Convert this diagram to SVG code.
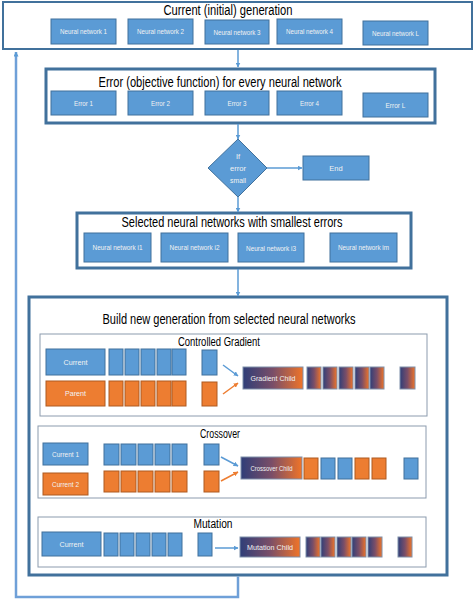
<svg xmlns="http://www.w3.org/2000/svg" width="474" height="600" viewBox="0 0 474 600">
<defs>
<linearGradient id="grad" x1="0" y1="0" x2="1" y2="0">
<stop offset="0" stop-color="#2F3E78"/>
<stop offset="0.5" stop-color="#7A4E68"/>
<stop offset="1" stop-color="#F07428"/>
</linearGradient>
<marker id="ab" viewBox="0 0 10 10" refX="9" refY="5" markerWidth="5" markerHeight="5" orient="auto" markerUnits="userSpaceOnUse">
<path d="M0,0 L10,5 L0,10 z" fill="#5B9BD5"/>
</marker>
<marker id="ao" viewBox="0 0 10 10" refX="9" refY="5" markerWidth="5" markerHeight="5" orient="auto" markerUnits="userSpaceOnUse">
<path d="M0,0 L10,5 L0,10 z" fill="#ED7D31"/>
</marker>
</defs>
<style>
.bg{fill:#FFFFFF}
.frame{fill:#FFFFFF;stroke:#41719C;stroke-width:3}
.top{fill:#FFFFFF;stroke:#41719C;stroke-width:2}
.sub{fill:#FFFFFF;stroke:#8C9BAE;stroke-width:1}
.b{fill:#5B9BD5;stroke:#41719C;stroke-width:1}
.o{fill:#ED7D31;stroke:#AE5A21;stroke-width:1}
.g{fill:url(#grad);stroke:#7F8FA9;stroke-width:1}
.t{font-family:"Liberation Sans",Arial,sans-serif;fill:#000000;text-anchor:middle}
.h1{font-size:14px}
.h2{font-size:12px}
.l{font-family:"Liberation Sans",Arial,sans-serif;font-size:7.5px;fill:#F2F2F2;text-anchor:middle}
.c{fill:none;stroke:#5B9BD5;stroke-width:1.5}
.co{fill:none;stroke:#ED7D31;stroke-width:1.5}
.fb{fill:none;stroke:#6FA0D8;stroke-width:2.5}
</style>
<rect class="bg" x="0" y="0" width="474" height="600"/>

<g id="current-generation">
<rect class="top" x="3" y="2" width="469" height="47"/>
<text class="t h1" x="228" y="15" textLength="129" lengthAdjust="spacingAndGlyphs">Current (initial) generation</text>
<rect class="b" x="51" y="19" width="65" height="25"/><text class="l" x="83.5" y="34" textLength="47" lengthAdjust="spacingAndGlyphs">Neural network 1</text>
<rect class="b" x="128" y="19" width="65" height="25"/><text class="l" x="160.5" y="34" textLength="47" lengthAdjust="spacingAndGlyphs">Neural network 2</text>
<rect class="b" x="205" y="20" width="64" height="24"/><text class="l" x="237" y="35" textLength="47" lengthAdjust="spacingAndGlyphs">Neural network 3</text>
<rect class="b" x="277" y="19" width="65" height="25"/><text class="l" x="309.5" y="34" textLength="47" lengthAdjust="spacingAndGlyphs">Neural network 4</text>
<rect class="b" x="363" y="21" width="65" height="24"/><text class="l" x="395.5" y="36" textLength="47" lengthAdjust="spacingAndGlyphs">Neural network L</text>
</g>

<g id="error">
<rect class="frame" x="46" y="69" width="389" height="54"/>
<text class="t h1" x="220" y="87" textLength="243" lengthAdjust="spacingAndGlyphs">Error (objective function) for every neural network</text>
<rect class="b" x="51" y="91" width="65" height="24"/><text class="l" x="83.5" y="106" textLength="19" lengthAdjust="spacingAndGlyphs">Error 1</text>
<rect class="b" x="128" y="91" width="65" height="24"/><text class="l" x="160.5" y="106" textLength="19" lengthAdjust="spacingAndGlyphs">Error 2</text>
<rect class="b" x="205" y="91" width="64" height="24"/><text class="l" x="237" y="106" textLength="19" lengthAdjust="spacingAndGlyphs">Error 3</text>
<rect class="b" x="277" y="91" width="65" height="24"/><text class="l" x="309.5" y="106" textLength="19" lengthAdjust="spacingAndGlyphs">Error 4</text>
<rect class="b" x="363" y="93" width="65" height="24"/><text class="l" x="395.5" y="108" textLength="20" lengthAdjust="spacingAndGlyphs">Error  L</text>
</g>

<g id="decision">
<polygon class="b" points="238,139 267,168 238,197 208,168"/>
<text class="l" x="238" y="159">If</text>
<text class="l" x="238" y="171" textLength="16" lengthAdjust="spacingAndGlyphs">error</text>
<text class="l" x="238" y="183" textLength="16" lengthAdjust="spacingAndGlyphs">small</text>
</g>

<g id="end">
<rect class="b" x="303" y="156" width="66" height="24"/>
<text class="l" x="336" y="171">End</text>
</g>

<g id="selected">
<rect class="frame" x="77" y="213" width="334" height="55"/>
<text class="t h1" x="232" y="227" textLength="221" lengthAdjust="spacingAndGlyphs">Selected neural networks with smallest errors</text>
<rect class="b" x="84" y="233" width="67" height="29"/><text class="l" x="117.5" y="250" textLength="50" lengthAdjust="spacingAndGlyphs">Neural network i1</text>
<rect class="b" x="161" y="233" width="67" height="29"/><text class="l" x="194.5" y="250" textLength="50" lengthAdjust="spacingAndGlyphs">Neural network i2</text>
<rect class="b" x="238" y="233" width="66" height="29"/><text class="l" x="271" y="251" textLength="50" lengthAdjust="spacingAndGlyphs">Neural network i3</text>
<rect class="b" x="330" y="233" width="67" height="29"/><text class="l" x="363.5" y="250" textLength="51" lengthAdjust="spacingAndGlyphs">Neural network im</text>
</g>

<g id="build">
<rect class="frame" x="29" y="297" width="418" height="278"/>
<text class="t h1" x="229" y="324" textLength="253" lengthAdjust="spacingAndGlyphs">Build new generation from selected neural networks</text>
</g>

<g id="controlled-gradient">
<rect class="sub" x="40" y="334" width="387" height="82"/>
<text class="t h2" x="219" y="346" textLength="82" lengthAdjust="spacingAndGlyphs">Controlled Gradient</text>
<rect class="b" x="46" y="349" width="59" height="26"/><text class="l" x="75.5" y="365" textLength="24" lengthAdjust="spacingAndGlyphs">Current</text>
<rect class="o" x="46" y="381" width="59" height="25"/><text class="l" x="75.5" y="396" textLength="21" lengthAdjust="spacingAndGlyphs">Parent</text>
<rect class="b" x="109" y="349" width="14" height="26"/>
<rect class="b" x="125" y="349" width="14" height="26"/>
<rect class="b" x="141" y="349" width="14" height="26"/>
<rect class="b" x="157" y="349" width="14" height="26"/>
<rect class="b" x="172" y="349" width="14" height="26"/>
<rect class="b" x="202" y="350" width="15" height="25"/>
<rect class="o" x="109" y="381" width="14" height="25"/>
<rect class="o" x="125" y="381" width="14" height="25"/>
<rect class="o" x="141" y="381" width="14" height="25"/>
<rect class="o" x="157" y="381" width="14" height="25"/>
<rect class="o" x="172" y="381" width="14" height="25"/>
<rect class="o" x="202" y="382" width="15" height="24"/>
<rect class="g" x="243" y="367" width="60" height="22"/><text class="l" x="273" y="381" textLength="45" lengthAdjust="spacingAndGlyphs">Gradient Child</text>
<rect class="g" x="307" y="367" width="14" height="22"/>
<rect class="g" x="323" y="367" width="14" height="22"/>
<rect class="g" x="339" y="367" width="14" height="22"/>
<rect class="g" x="355" y="367" width="14" height="22"/>
<rect class="g" x="370" y="367" width="14" height="22"/>
<rect class="g" x="400" y="367" width="15" height="22"/>
</g>

<g id="crossover">
<rect class="sub" x="38" y="426" width="388" height="72"/>
<text class="t h2" x="220" y="438" textLength="40" lengthAdjust="spacingAndGlyphs">Crossover</text>
<rect class="b" x="43" y="443" width="45" height="22"/><text class="l" x="65.5" y="457" textLength="27" lengthAdjust="spacingAndGlyphs">Current 1</text>
<rect class="o" x="43" y="473" width="45" height="22"/><text class="l" x="65.5" y="487" textLength="27" lengthAdjust="spacingAndGlyphs">Current 2</text>
<rect class="b" x="104" y="444" width="15" height="21"/>
<rect class="b" x="121" y="444" width="15" height="21"/>
<rect class="b" x="138" y="444" width="15" height="21"/>
<rect class="b" x="155" y="444" width="15" height="21"/>
<rect class="b" x="172" y="444" width="15" height="21"/>
<rect class="b" x="204" y="444" width="15" height="21"/>
<rect class="o" x="104" y="471" width="15" height="21"/>
<rect class="o" x="121" y="471" width="15" height="21"/>
<rect class="o" x="138" y="471" width="15" height="21"/>
<rect class="o" x="155" y="471" width="15" height="21"/>
<rect class="o" x="172" y="471" width="15" height="21"/>
<rect class="o" x="204" y="471" width="15" height="21"/>
<rect class="g" x="241" y="457" width="61" height="22"/><text class="l" x="271.5" y="471" textLength="42" lengthAdjust="spacingAndGlyphs">Crossover Child</text>
<rect class="o" x="304" y="458" width="14" height="21"/>
<rect class="b" x="321" y="458" width="14" height="21"/>
<rect class="b" x="338" y="458" width="14" height="21"/>
<rect class="o" x="355" y="458" width="14" height="21"/>
<rect class="o" x="372" y="458" width="14" height="21"/>
<rect class="b" x="404" y="458" width="14" height="21"/>
</g>

<g id="mutation">
<rect class="sub" x="38" y="517" width="388" height="50"/>
<text class="t h2" x="213" y="528" textLength="39" lengthAdjust="spacingAndGlyphs">Mutation</text>
<rect class="b" x="42" y="532" width="59" height="24"/><text class="l" x="71.5" y="547" textLength="24" lengthAdjust="spacingAndGlyphs">Current</text>
<rect class="b" x="104" y="533" width="14" height="23"/>
<rect class="b" x="120" y="533" width="14" height="23"/>
<rect class="b" x="136" y="533" width="14" height="23"/>
<rect class="b" x="152" y="533" width="14" height="23"/>
<rect class="b" x="168" y="533" width="14" height="23"/>
<rect class="b" x="198" y="533" width="14" height="23"/>
<rect class="g" x="240" y="537" width="60" height="20"/><text class="l" x="270" y="550" textLength="46" lengthAdjust="spacingAndGlyphs">Mutation Child</text>
<rect class="g" x="306" y="537" width="14" height="20"/>
<rect class="g" x="321" y="537" width="14" height="20"/>
<rect class="g" x="337" y="537" width="14" height="20"/>
<rect class="g" x="352" y="537" width="14" height="20"/>
<rect class="g" x="368" y="537" width="14" height="20"/>
<rect class="g" x="398" y="537" width="14" height="20"/>
</g>

<g id="connectors">
<line class="c" x1="238" y1="50" x2="238" y2="67" marker-end="url(#ab)"/>
<line class="c" x1="238" y1="124" x2="238" y2="139" marker-end="url(#ab)"/>
<line class="c" x1="267" y1="168" x2="302" y2="168" marker-end="url(#ab)"/>
<line class="c" x1="238" y1="197" x2="238" y2="212" marker-end="url(#ab)"/>
<line class="c" x1="238" y1="269" x2="238" y2="296" marker-end="url(#ab)"/>
<polyline class="fb" points="238,576.5 238,597 16,597 16,52" marker-end="url(#ab)"/>
<line class="c" x1="223" y1="365" x2="238" y2="376" marker-end="url(#ab)"/>
<line class="co" x1="223" y1="394" x2="238" y2="383" marker-end="url(#ao)"/>
<line class="c" x1="221" y1="457" x2="238" y2="466" marker-end="url(#ab)"/>
<line class="co" x1="221" y1="481" x2="238" y2="472" marker-end="url(#ao)"/>
<line class="c" x1="215" y1="548" x2="238" y2="548" marker-end="url(#ab)"/>
</g>
</svg>
